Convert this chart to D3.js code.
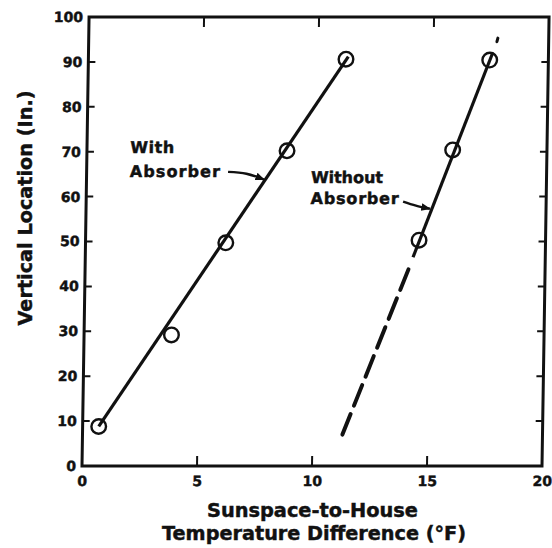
<!DOCTYPE html>
<html>
<head>
<meta charset="utf-8">
<script src="https://cdn.jsdelivr.net/npm/d3@7"></script>
<style>
  html, body { margin: 0; padding: 0; background: #fff; }
  svg { display: block; }
  text { font-family: "DejaVu Sans", "Liberation Sans", Arial, sans-serif; font-weight: bold; fill: #111; stroke: #111; stroke-width: 0.45; }
</style>
</head>
<body>
<svg id="chart" width="552" height="548"></svg>
<script>
// ---- data ----
const xTicks = [0, 5, 10, 15, 20];
const yTicks = [0, 10, 20, 30, 40, 50, 60, 70, 80, 90, 100];
const yInnerTicks = [10, 20, 30, 40, 50, 60, 70, 80, 90];
const xInnerTicks = [5, 10, 15];

// "With Absorber" measured points
const withX = [0.7, 3.8, 6.1, 8.7, 11.2];
const withY = [8.8, 29.2, 49.7, 70.2, 90.6];
// "Without Absorber" measured points
const withoutX = [14.5, 15.9, 17.45];
const withoutY = [50.3, 70.4, 90.4];

// fitted lines
const withFitX = [0.7, 11.3];
const withFitY = [8.8, 91.2];
const withoutSolidX = [14.25, 17.58];
const withoutSolidY = [46.5, 92.1];
const withoutDashX = [11.3, 14.06];
const withoutDashY = [7, 43.8];
const withoutTipX = [17.75, 17.79];
const withoutTipY = [94.5, 95.3];

// annotations
const withLabel = ["With", "Absorber"];
const withLabelX = 1.88, withLabelY = [69.7, 64.4];
const withLeaderX = [6.15, 6.95, 7.72];
const withLeaderY = [65.5, 65.1, 63.8];
const withoutLabel = ["Without", "Absorber"];
const withoutLabelX = 9.76, withoutLabelY = [63.0, 58.4];
const withoutLeaderX = [13.78, 14.34, 14.95];
const withoutLeaderY = [58.9, 58.0, 57.3];

const xTitle = ["Sunspace-to-House", "Temperature Difference (°F)"];
const yTitle = "Vertical Location (In.)";

// ---- layout ----
const svg = d3.select("#chart");
const mLeft = 82, mRight = 542, mTop = 17, mBottom = 466;
const x = d3.scaleLinear().domain([0, 20]).range([mLeft, mRight]);
const y = d3.scaleLinear().domain([0, 100]).range([mBottom, mTop]);

// the scanned figure is slightly sheared; reproduce with a small skew
const g = svg.append("g")
  .attr("transform", `translate(0,${mBottom}) skewX(-0.9) translate(0,${-mBottom})`);

const ink = "#111";

// frame
g.append("rect")
  .attr("x", x(0)).attr("y", y(100))
  .attr("width", x(20) - x(0)).attr("height", y(0) - y(100))
  .attr("fill", "none").attr("stroke", ink).attr("stroke-width", 3);

// axes (ticks pointing inward)
const axB = d3.axisBottom(x).tickValues(xTicks).tickSize(0).tickPadding(10).tickFormat(d3.format("d"));
const axL = d3.axisLeft(y).tickValues(yTicks).tickSize(0).tickPadding(6).tickFormat(d3.format("d"));
const gB = g.append("g").attr("transform", `translate(0,${y(0)})`).call(axB);
const gL = g.append("g").attr("transform", `translate(${x(0)},0)`).call(axL);
[gB, gL].forEach(a => {
  a.select(".domain").remove();
  a.selectAll("text").attr("font-size", 14).attr("font-family", "DejaVu Sans").attr("font-weight", "bold")
    .attr("fill", ink).attr("stroke", ink).attr("stroke-width", 0.45);
});

// inner tick marks
g.append("g").selectAll("line").data(yInnerTicks).join("line")
  .attr("x1", x(0)).attr("x2", x(0) + 7).attr("y1", d => y(d)).attr("y2", d => y(d))
  .attr("stroke", ink).attr("stroke-width", 2);
g.append("g").selectAll("line").data(yInnerTicks).join("line")
  .attr("x1", x(20)).attr("x2", x(20) - 7).attr("y1", d => y(d)).attr("y2", d => y(d))
  .attr("stroke", ink).attr("stroke-width", 2);
g.append("g").selectAll("line").data(xInnerTicks).join("line")
  .attr("x1", d => x(d)).attr("x2", d => x(d)).attr("y1", y(0)).attr("y2", y(0) - 10)
  .attr("stroke", ink).attr("stroke-width", 2);
g.append("g").selectAll("line").data(xInnerTicks).join("line")
  .attr("x1", d => x(d)).attr("x2", d => x(d)).attr("y1", y(100)).attr("y2", y(100) + 10)
  .attr("stroke", ink).attr("stroke-width", 2);

const line = d3.line().x(d => x(d[0])).y(d => y(d[1]));
const curve = d3.line().x(d => x(d[0])).y(d => y(d[1])).curve(d3.curveNatural);

// fitted lines
g.append("path").datum(d3.zip(withFitX, withFitY)).attr("d", line)
  .attr("fill", "none").attr("stroke", ink).attr("stroke-width", 3.2);
g.append("path").datum(d3.zip(withoutSolidX, withoutSolidY)).attr("d", line)
  .attr("fill", "none").attr("stroke", ink).attr("stroke-width", 3.2);
g.append("path").datum(d3.zip(withoutDashX, withoutDashY)).attr("d", line)
  .attr("fill", "none").attr("stroke", ink).attr("stroke-width", 4)
  .attr("stroke-dasharray", "22 9").attr("stroke-linecap", "round");
g.append("path").datum(d3.zip(withoutTipX, withoutTipY)).attr("d", line)
  .attr("fill", "none").attr("stroke", ink).attr("stroke-width", 3).attr("stroke-linecap", "round");

// points
g.append("g").selectAll("circle").data(d3.zip(withX, withY)).join("circle")
  .attr("cx", d => x(d[0])).attr("cy", d => y(d[1])).attr("r", 7.3)
  .attr("fill", "none").attr("stroke", ink).attr("stroke-width", 2.4);
g.append("g").selectAll("circle").data(d3.zip(withoutX, withoutY)).join("circle")
  .attr("cx", d => x(d[0])).attr("cy", d => y(d[1])).attr("r", 7.3)
  .attr("fill", "none").attr("stroke", ink).attr("stroke-width", 2.4);

// leaders with arrowheads
svg.append("defs").append("marker")
  .attr("id", "arr").attr("viewBox", "0 0 10 10").attr("refX", 9).attr("refY", 5)
  .attr("markerWidth", 4).attr("markerHeight", 4).attr("orient", "auto")
  .append("path").attr("d", "M0,1 L10,5 L0,9 Z").attr("fill", ink);
g.append("path").datum(d3.zip(withLeaderX, withLeaderY)).attr("d", curve)
  .attr("fill", "none").attr("stroke", ink).attr("stroke-width", 2.4).attr("marker-end", "url(#arr)");
g.append("path").datum(d3.zip(withoutLeaderX, withoutLeaderY)).attr("d", curve)
  .attr("fill", "none").attr("stroke", ink).attr("stroke-width", 2.4).attr("marker-end", "url(#arr)");

// annotation labels
g.append("g").selectAll("text").data(withLabel).join("text")
  .attr("x", x(withLabelX)).attr("y", (d, i) => y(withLabelY[i]))
  .attr("font-size", 16).attr("textLength", (d, i) => i ? 90 : 44).attr("lengthAdjust", "spacing")
  .text(d => d);
g.append("g").selectAll("text").data(withoutLabel).join("text")
  .attr("x", x(withoutLabelX)).attr("y", (d, i) => y(withoutLabelY[i]))
  .attr("font-size", 16).attr("textLength", (d, i) => i ? 88 : 72).attr("lengthAdjust", "spacing")
  .text(d => d);

// axis titles
svg.append("g").selectAll("text").data(xTitle).join("text")
  .attr("x", (d, i) => i ? 314 : 312.5).attr("y", (d, i) => i ? 540 : 517)
  .attr("text-anchor", "middle").attr("font-size", 19)
  .attr("textLength", (d, i) => i ? 304 : 211).attr("lengthAdjust", "spacingAndGlyphs")
  .text(d => d);
svg.append("text")
  .attr("transform", "translate(32,208) rotate(-90)")
  .attr("text-anchor", "middle").attr("font-size", 19)
  .attr("textLength", 235).attr("lengthAdjust", "spacingAndGlyphs")
  .text(yTitle);
</script>
</body>
</html>
